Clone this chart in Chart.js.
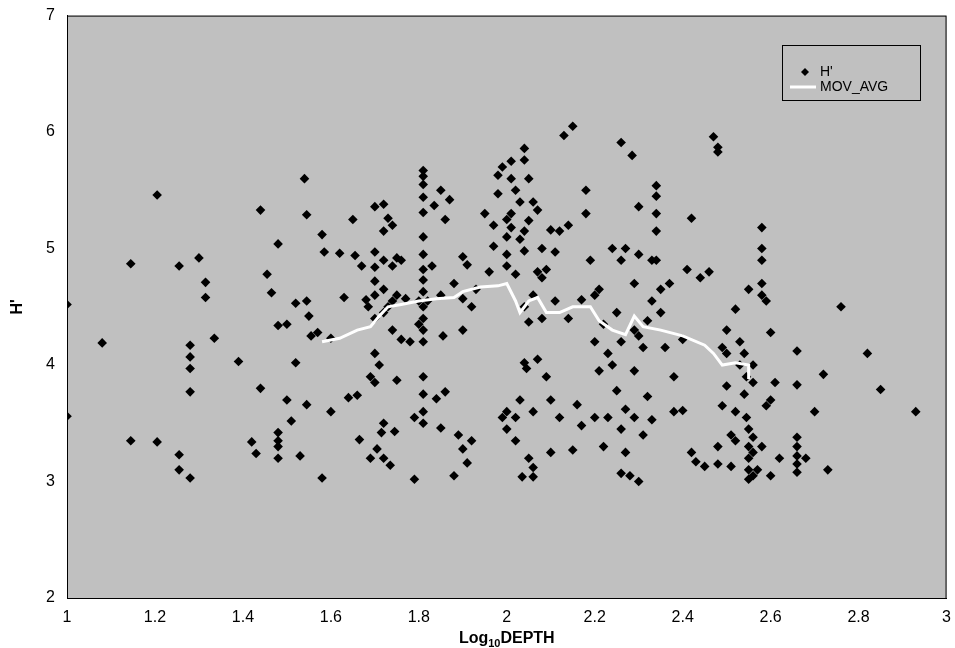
<!DOCTYPE html>
<html><head><meta charset="utf-8">
<script src="https://cdn.jsdelivr.net/npm/chart.js@4"></script>
<style>html,body{margin:0;padding:0;background:#fff}#w{width:955px;height:648px}</style>
</head><body><div id="w"><canvas id="c"></canvas></div>
<script>
const hPoints = [[1,4.52],[1,3.56],[1.08,4.19],[1.145,4.87],[1.145,3.35],[1.205,5.46],[1.205,3.34],[1.255,4.85],[1.255,3.23],[1.255,3.1],[1.28,4.17],[1.28,4.07],[1.28,3.97],[1.28,3.77],[1.28,3.03],[1.3,4.92],[1.315,4.71],[1.315,4.58],[1.335,4.23],[1.39,4.03],[1.42,3.34],[1.43,3.24],[1.44,5.33],[1.44,3.8],[1.455,4.78],[1.465,4.62],[1.48,5.04],[1.48,4.34],[1.48,3.42],[1.48,3.35],[1.48,3.3],[1.48,3.2],[1.5,4.35],[1.5,3.7],[1.51,3.52],[1.52,4.53],[1.52,4.02],[1.53,3.22],[1.54,5.6],[1.545,5.29],[1.545,4.55],[1.545,3.66],[1.55,4.42],[1.555,4.25],[1.57,4.28],[1.58,5.12],[1.58,3.03],[1.585,4.97],[1.6,4.23],[1.6,3.6],
[1.62,4.96],[1.63,4.58],[1.64,3.72],[1.65,5.25],[1.655,4.94],[1.66,3.74],[1.665,3.36],[1.67,4.85],[1.68,4.56],[1.685,4.5],[1.69,3.9],[1.69,3.2],[1.7,5.36],[1.7,4.97],[1.7,4.84],[1.7,4.72],[1.7,4.6],[1.7,4.4],[1.7,4.1],[1.7,3.85],[1.705,3.28],[1.71,4.0],[1.715,3.42],[1.72,5.38],[1.72,5.15],[1.72,4.9],[1.72,4.65],[1.72,4.45],[1.72,3.5],[1.72,3.2],[1.73,5.26],[1.73,4.5],[1.735,3.14],[1.74,5.2],[1.74,4.85],[1.74,4.55],[1.74,4.3],[1.745,3.43],[1.75,4.92],[1.75,4.6],[1.75,3.87],[1.76,4.9],[1.76,4.22],[1.77,4.57],[1.78,4.2],[1.79,3.02],[1.79,3.55],[1.8,4.55],[1.8,4.35],
[1.81,5.67],[1.81,5.62],[1.81,5.55],[1.81,5.44],[1.81,5.31],[1.81,5.1],[1.81,4.95],[1.81,4.82],[1.81,4.73],[1.81,4.63],[1.81,4.5],[1.81,4.4],[1.81,4.3],[1.81,4.2],[1.81,3.9],[1.81,3.75],[1.81,3.6],[1.81,3.5],[1.82,4.55],[1.83,4.85],[1.835,5.37],[1.84,3.71],[1.85,5.5],[1.85,4.6],[1.85,3.46],[1.855,4.25],[1.86,5.25],[1.86,3.77],[1.87,5.42],[1.88,4.7],[1.88,3.05],[1.89,3.4],[1.9,4.93],[1.9,4.57],[1.9,4.3],[1.9,3.28],[1.91,3.16],[1.91,4.86],[1.92,4.5],[1.92,3.35],[1.93,4.65],[1.95,5.3],[1.96,4.8],[1.97,5.02],[1.97,5.2],[1.98,5.63],[1.98,5.47],[1.99,5.7],[1.99,3.55],[2.0,5.25],[2.0,5.1],[2.0,4.95],[2.0,4.85],[2.0,3.6],[2.0,3.45],
[2.01,5.75],[2.01,5.6],[2.01,5.3],[2.01,5.18],[2.02,5.5],[2.02,4.78],[2.02,3.35],[2.02,3.55],[2.03,5.4],[2.03,5.08],[2.03,3.7],[2.035,3.04],[2.04,5.86],[2.04,5.76],[2.04,5.15],[2.04,4.98],[2.04,4.5],[2.04,4.02],[2.045,3.97],[2.05,5.6],[2.05,5.24],[2.05,4.37],[2.05,3.2],[2.06,5.4],[2.06,4.6],[2.06,3.6],[2.06,3.12],[2.06,3.04],[2.07,5.33],[2.07,4.8],[2.07,4.05],[2.08,5.0],[2.08,4.75],[2.08,4.4],[2.09,4.82],[2.09,3.9],[2.1,5.16],[2.1,3.7],[2.1,3.25],[2.11,4.97],[2.11,4.55],[2.12,5.15],[2.12,3.55],[2.13,5.97],[2.14,5.2],[2.14,4.4],[2.15,6.05],[2.15,3.27],[2.16,3.66],[2.17,4.56],[2.17,3.48],[2.18,5.5],[2.18,5.3],[2.19,4.9],[2.2,4.6],[2.2,4.2],[2.2,3.55],
[2.21,4.65],[2.21,3.95],[2.22,4.35],[2.22,3.3],[2.23,3.55],[2.23,4.1],[2.24,5.0],[2.24,4.0],[2.25,4.45],[2.25,3.78],[2.26,5.91],[2.26,4.9],[2.26,4.2],[2.26,3.45],[2.26,3.07],[2.27,5.0],[2.27,3.62],[2.27,3.25],[2.28,3.05],[2.285,5.8],[2.29,4.7],[2.29,4.3],[2.29,3.95],[2.29,3.55],[2.3,5.36],[2.3,4.95],[2.3,4.25],[2.3,3.0],[2.31,4.15],[2.31,3.4],[2.32,4.38],[2.32,3.73],[2.33,4.9],[2.33,4.55],[2.33,3.53],[2.34,5.54],[2.34,5.45],[2.34,5.3],[2.34,5.15],[2.34,4.9],[2.35,4.65],[2.35,4.45],[2.36,4.15],[2.37,4.7],[2.38,3.9],[2.38,3.6],[2.4,4.22],[2.4,3.61],
[2.41,4.82],[2.42,5.26],[2.42,3.25],[2.43,3.17],[2.44,4.75],[2.45,3.13],[2.46,4.8],[2.47,5.96],[2.48,5.87],[2.48,5.83],[2.48,3.3],[2.48,3.15],[2.49,4.15],[2.49,3.65],[2.5,4.3],[2.5,4.1],[2.5,3.82],[2.51,3.4],[2.51,3.13],[2.52,4.48],[2.52,3.6],[2.52,3.35],[2.53,4.2],[2.53,4.0],[2.54,4.1],[2.54,3.75],[2.545,3.9],[2.545,3.55],[2.55,4.65],[2.55,3.45],[2.55,3.3],[2.55,3.2],[2.55,3.1],[2.55,3.02],[2.56,4.0],[2.56,3.85],[2.56,3.38],[2.56,3.25],[2.56,3.05],[2.57,3.1],[2.58,5.18],[2.58,5.0],[2.58,4.9],[2.58,4.7],[2.58,4.6],[2.59,4.55],[2.59,3.65],[2.58,3.3],[2.6,4.28],[2.6,3.7],[2.6,3.05],
[2.61,3.85],[2.62,3.2],[2.66,4.12],[2.66,3.83],[2.66,3.38],[2.66,3.3],[2.66,3.22],[2.66,3.15],[2.66,3.08],[2.68,3.2],[2.7,3.6],[2.72,3.92],[2.73,3.1],[2.76,4.5],[2.82,4.1],[2.85,3.79],[2.93,3.6]];
const movAvg = [[1.58,4.2],[1.62,4.23],[1.66,4.3],[1.69,4.33],[1.71,4.42],[1.73,4.5],[1.76,4.52],[1.8,4.55],[1.84,4.57],[1.88,4.58],[1.9,4.63],[1.94,4.67],[1.98,4.68],[2.0,4.7],[2.02,4.55],[2.03,4.45],[2.05,4.55],[2.07,4.58],[2.09,4.45],[2.12,4.45],[2.15,4.5],[2.19,4.5],[2.21,4.38],[2.24,4.3],[2.27,4.26],[2.29,4.42],[2.31,4.33],[2.35,4.3],[2.4,4.25],[2.45,4.17],[2.47,4.1],[2.49,4.0],[2.52,4.02],[2.55,4.0],[2.55,3.88]];
const seriesNames = ["H'", "MOV_AVG"];
const xTicks = [1,1.2,1.4,1.6,1.8,2,2.2,2.4,2.6,2.8,3];

const deco = {
  id:'deco',
  beforeDraw(ch){const a=ch.chartArea,c=ch.ctx;c.save();c.fillStyle='#c0c0c0';c.fillRect(a.left,a.top,a.right-a.left,a.bottom-a.top);c.restore();},
  afterDraw(ch){
    const a=ch.chartArea,c=ch.ctx;c.save();
    c.strokeStyle='#000';c.lineWidth=1;c.strokeRect(a.left+0.5,a.top+0.5,a.right-a.left-1,a.bottom-a.top);
    c.fillStyle='#000';c.font='bold 16px "Liberation Sans", Arial';c.textBaseline='alphabetic';
    const cx=(a.left+a.right)/2, t1='Log', t2='10', t3='DEPTH';
    const w1=c.measureText(t1).width, w3=c.measureText(t3).width;
    c.font='bold 11px "Liberation Sans", Arial';const w2=c.measureText(t2).width;
    let x0=cx-(w1+w2+w3)/2, yb=643;
    c.font='bold 16px "Liberation Sans", Arial';c.textAlign='left';c.fillText(t1,x0,yb);
    c.font='bold 11px "Liberation Sans", Arial';c.fillText(t2,x0+w1,yb+4);
    c.font='bold 16px "Liberation Sans", Arial';c.fillText(t3,x0+w1+w2,yb);
    c.translate(22,(a.top+a.bottom)/2);c.rotate(-Math.PI/2);c.textAlign='center';c.fillText("H'",0,0);
    c.restore();
    c.save();
    c.fillStyle='#c0c0c0';c.fillRect(782,45,138,55);c.strokeStyle='#000';c.lineWidth=1;c.strokeRect(782.5,45.5,138,55);
    c.fillStyle='#000';c.beginPath();c.moveTo(805,68);c.lineTo(809,72);c.lineTo(805,76);c.lineTo(801,72);c.closePath();c.fill();
    c.strokeStyle='#fff';c.lineWidth=3;c.beginPath();c.moveTo(790,87);c.lineTo(816,87);c.stroke();
    c.font='14px "Liberation Sans", Arial';c.textBaseline='middle';c.fillStyle='#000';
    c.fillText(seriesNames[0],820,72);c.fillText(seriesNames[1],820,87);
    c.restore();
  }
};
new Chart(document.getElementById('c'),{
  type:'scatter',
  data:{datasets:[
    {label:seriesNames[1],data:movAvg.map(p=>({x:p[0],y:p[1]})),showLine:true,borderColor:'#fff',borderWidth:3,pointRadius:0,fill:false,tension:0},
    {label:seriesNames[0],data:hPoints.map(p=>({x:p[0],y:p[1]})),pointStyle:'rectRot',pointRadius:4.8,backgroundColor:'#000',borderColor:'#000',borderWidth:0}
  ]},
  options:{responsive:true,maintainAspectRatio:false,animation:false,
    layout:{padding:{left:0,right:0,top:15,bottom:0}},
    plugins:{legend:{display:false},tooltip:{enabled:false}},
    scales:{
      x:{type:'linear',min:1,max:3,afterBuildTicks(s){s.ticks=xTicks.map(v=>({value:v}));},
        afterFit(s){s.height=50;},
        grid:{display:false,drawTicks:true,tickLength:6,color:'#000'},border:{color:'#000'},
        ticks:{color:'#000',font:{size:16,family:'"Liberation Sans", Arial'},padding:4,maxRotation:0,callback:v=>String(v)}},
      y:{min:2,max:7,afterFit(s){s.width=67;},ticks:{stepSize:1,color:'#000',font:{size:16,family:'"Liberation Sans", Arial'},padding:6},
        grid:{display:false,tickLength:6},border:{color:'#000'}}
    }
  },
  plugins:[deco]
});
</script></body></html>
